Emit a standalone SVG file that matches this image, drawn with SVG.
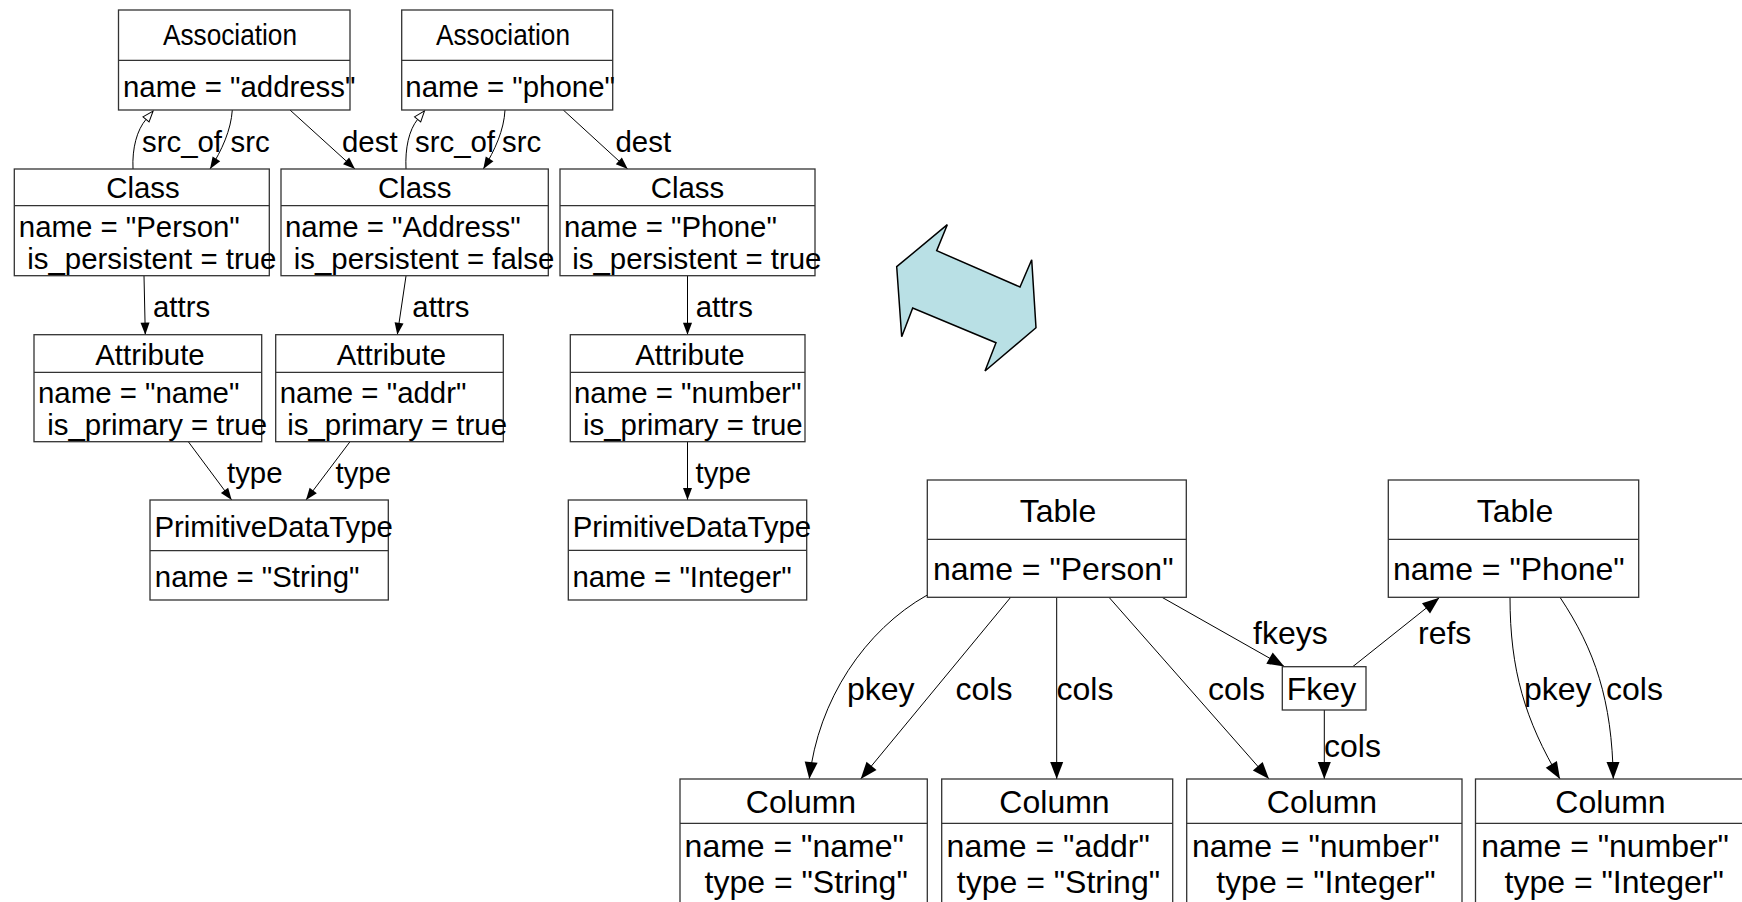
<svg xmlns="http://www.w3.org/2000/svg" width="1742" height="902" viewBox="0 0 1742 902">
  <style>
    .box { fill: #ffffff; stroke: #333333; stroke-width: 1.3; }
    .div { stroke: #333333; stroke-width: 1.3; }
    .t { font-family: "Liberation Sans", Arial, sans-serif; font-size: 29.4px; fill: #000000; }
    .tl { font-family: "Liberation Sans", Arial, sans-serif; font-size: 32px; fill: #000000; }
    .c { text-anchor: middle; }
    .edge { fill: none; stroke: #000000; stroke-width: 1; }
    .up { marker-end: url(#ah); }
    .open { marker-end: url(#ahOpen); }
    .low { marker-end: url(#ahL); }
  </style>
  <defs>
    <marker id="ah" markerUnits="userSpaceOnUse" markerWidth="13" markerHeight="10" refX="12" refY="4.5" orient="auto" overflow="visible">
      <path d="M0,0 L12,4.5 L0,9 z" fill="#000000"/>
    </marker>
    <marker id="ahOpen" markerUnits="userSpaceOnUse" markerWidth="13" markerHeight="10" refX="0" refY="4" orient="auto" overflow="visible">
      <path d="M0,0 L11,4 L0,8 z" fill="#ffffff" stroke="#000000" stroke-width="1"/>
    </marker>
    <marker id="ahL" markerUnits="userSpaceOnUse" markerWidth="18" markerHeight="14" refX="17" refY="6.5" orient="auto" overflow="visible">
      <path d="M0,0 L17,6.5 L0,13 z" fill="#000000"/>
    </marker>
  </defs>

  <rect width="1742" height="902" fill="#ffffff"/>

  <!-- connectors -->
  <g id="connectors">
    <!-- object model -->
    <path class="edge open" d="M133,169 C132,148 137,130 146,119.4"/>
    <path class="edge up" d="M232.3,110 C231,130 222,150 210,169"/>
    <path class="edge up" d="M290,110 L355,169"/>
    <path class="edge open" d="M406,169 C405,148 409,130 417.6,119.4"/>
    <path class="edge up" d="M505,110 C504,130 495,150 483.3,169"/>
    <path class="edge up" d="M563.3,110 L627.7,169"/>
    <path class="edge up" d="M144,276 L145.3,334.7"/>
    <path class="edge up" d="M406,276 L397.3,334.7"/>
    <path class="edge up" d="M687.5,276 L687.5,334.7"/>
    <path class="edge up" d="M188.3,441.7 L231.7,500"/>
    <path class="edge up" d="M350,441.7 L306,500"/>
    <path class="edge up" d="M687.5,441.7 L687.5,500"/>

    <!-- relational model -->
    <path class="edge low" d="M927.3,595 C865,630 818,700 809.3,779"/>
    <path class="edge low" d="M1010.7,597.3 L860.7,779"/>
    <path class="edge low" d="M1056.7,597.3 L1056.7,779"/>
    <path class="edge low" d="M1109,597.3 L1269,779"/>
    <path class="edge low" d="M1162,597.3 L1284.3,666.5"/>
    <path class="edge low" d="M1352.7,666.7 L1439.3,597.7"/>
    <path class="edge low" d="M1324.3,710 L1324.3,779"/>
    <path class="edge low" d="M1510,597.3 C1510,670 1525,720 1560,779"/>
    <path class="edge low" d="M1560,597.3 C1595,650 1612,700 1613.3,779"/>

    <!-- edge labels -->
    <text class="t" x="142" y="152">src_of</text>
    <text class="t" x="230.5" y="152">src</text>
    <text class="t" x="342" y="152">dest</text>
    <text class="t" x="415" y="152">src_of</text>
    <text class="t" x="502" y="152">src</text>
    <text class="t" x="615.5" y="152">dest</text>
    <text class="t" x="153" y="316.7">attrs</text>
    <text class="t" x="412.3" y="316.7">attrs</text>
    <text class="t" x="695.7" y="316.7">attrs</text>
    <text class="t" x="227" y="483.3">type</text>
    <text class="t" x="335.5" y="483.3">type</text>
    <text class="t" x="695.5" y="483.3">type</text>

    <text class="tl" x="847" y="700">pkey</text>
    <text class="tl" x="955.5" y="700">cols</text>
    <text class="tl" x="1056.5" y="700">cols</text>
    <text class="tl" x="1208" y="700">cols</text>
    <text class="tl" x="1253" y="644">fkeys</text>
    <text class="tl" x="1418" y="644">refs</text>
    <text class="tl" x="1324" y="756.7">cols</text>
    <text class="tl" x="1524" y="700">pkey</text>
    <text class="tl" x="1606" y="700">cols</text>
  </g>

  <!-- object model nodes -->
  <g id="assoc-address">
    <rect class="box" x="118.5" y="10" width="231.5" height="100"/>
    <line class="div" x1="118.5" y1="60.3" x2="350" y2="60.3"/>
    <text class="t c" x="230" y="45" textLength="134" lengthAdjust="spacingAndGlyphs">Association</text>
    <text class="t" x="123" y="96.7">name = "address"</text>
  </g>
  <g id="assoc-phone">
    <rect class="box" x="401.7" y="10" width="211" height="100"/>
    <line class="div" x1="401.7" y1="60.3" x2="612.7" y2="60.3"/>
    <text class="t c" x="503" y="45" textLength="134" lengthAdjust="spacingAndGlyphs">Association</text>
    <text class="t" x="405.3" y="96.7">name = "phone"</text>
  </g>
  <g id="class-person">
    <rect class="box" x="14.3" y="169" width="255" height="106.7"/>
    <line class="div" x1="14.3" y1="205.7" x2="269.3" y2="205.7"/>
    <text class="t c" x="143" y="198.3">Class</text>
    <text class="t" x="18.8" y="237">name = "Person"</text>
    <text class="t" x="27.3" y="269">is_persistent = true</text>
  </g>
  <g id="class-address">
    <rect class="box" x="281" y="169" width="267.3" height="106.7"/>
    <line class="div" x1="281" y1="205.7" x2="548.3" y2="205.7"/>
    <text class="t c" x="414.7" y="198.3">Class</text>
    <text class="t" x="285" y="237">name = "Address"</text>
    <text class="t" x="293.8" y="269">is_persistent = false</text>
  </g>
  <g id="class-phone">
    <rect class="box" x="560" y="169" width="255" height="106.7"/>
    <line class="div" x1="560" y1="205.7" x2="815" y2="205.7"/>
    <text class="t c" x="687.5" y="198.3">Class</text>
    <text class="t" x="564" y="237">name = "Phone"</text>
    <text class="t" x="572.3" y="269">is_persistent = true</text>
  </g>
  <g id="attr-name">
    <rect class="box" x="34" y="334.7" width="227.7" height="107"/>
    <line class="div" x1="34" y1="372.3" x2="261.7" y2="372.3"/>
    <text class="t c" x="150" y="365">Attribute</text>
    <text class="t" x="38" y="402.7">name = "name"</text>
    <text class="t" x="47.3" y="435">is_primary = true</text>
  </g>
  <g id="attr-addr">
    <rect class="box" x="275.7" y="334.7" width="227.6" height="107"/>
    <line class="div" x1="275.7" y1="372.3" x2="503.3" y2="372.3"/>
    <text class="t c" x="391.5" y="365">Attribute</text>
    <text class="t" x="279.7" y="402.7">name = "addr"</text>
    <text class="t" x="287.3" y="435">is_primary = true</text>
  </g>
  <g id="attr-number">
    <rect class="box" x="570.3" y="334.7" width="234.7" height="107"/>
    <line class="div" x1="570.3" y1="372.3" x2="805" y2="372.3"/>
    <text class="t c" x="690" y="365">Attribute</text>
    <text class="t" x="574" y="402.7">name = "number"</text>
    <text class="t" x="583" y="435">is_primary = true</text>
  </g>
  <g id="type-string">
    <rect class="box" x="150" y="500" width="238.3" height="100"/>
    <line class="div" x1="150" y1="550.7" x2="388.3" y2="550.7"/>
    <text class="t" x="154.4" y="536.7">PrimitiveDataType</text>
    <text class="t" x="154.8" y="586.7">name = "String"</text>
  </g>
  <g id="type-integer">
    <rect class="box" x="568.3" y="500" width="238.4" height="100"/>
    <line class="div" x1="568.3" y1="550.3" x2="806.7" y2="550.3"/>
    <text class="t" x="572.7" y="536.7">PrimitiveDataType</text>
    <text class="t" x="572.4" y="586.7">name = "Integer"</text>
  </g>

  <!-- transformation arrow -->
  <g id="transform-arrow">
    <polygon points="896.7,266.7 947.3,224.7 936.7,250.7 1020,287 1031.7,259.7 1036,327.7 985,371 996,342.7 912.7,308 901.7,336.7" fill="#b9e0e5" stroke="#000000" stroke-width="1.5" stroke-linejoin="miter"/>
  </g>

  <!-- relational model nodes -->
  <g id="table-person">
    <rect class="box" x="927.3" y="480" width="259" height="117.3"/>
    <line class="div" x1="927.3" y1="539.3" x2="1186.3" y2="539.3"/>
    <text class="tl c" x="1058" y="521.7">Table</text>
    <text class="tl" x="932.9" y="580">name = "Person"</text>
  </g>
  <g id="table-phone">
    <rect class="box" x="1388.3" y="480" width="250.4" height="117.3"/>
    <line class="div" x1="1388.3" y1="539.3" x2="1638.7" y2="539.3"/>
    <text class="tl c" x="1515" y="521.7">Table</text>
    <text class="tl" x="1392.9" y="580">name = "Phone"</text>
  </g>
  <g id="fkey">
    <rect class="box" x="1282.3" y="666.7" width="83.7" height="43.3"/>
    <text class="tl" x="1286.8" y="700">Fkey</text>
  </g>
  <g id="column-name">
    <rect class="box" x="680" y="779" width="247.3" height="130"/>
    <line class="div" x1="680" y1="823.3" x2="927.3" y2="823.3"/>
    <text class="tl c" x="801" y="813.3">Column</text>
    <text class="tl" x="684.6" y="856.7">name = "name"</text>
    <text class="tl" x="704.5" y="893">type = "String"</text>
  </g>
  <g id="column-addr">
    <rect class="box" x="941.7" y="779" width="231" height="130"/>
    <line class="div" x1="941.7" y1="823.3" x2="1172.7" y2="823.3"/>
    <text class="tl c" x="1054.5" y="813.3">Column</text>
    <text class="tl" x="946.6" y="856.7">name = "addr"</text>
    <text class="tl" x="956.8" y="893">type = "String"</text>
  </g>
  <g id="column-number">
    <rect class="box" x="1186.7" y="779" width="275.3" height="130"/>
    <line class="div" x1="1186.7" y1="823.3" x2="1462" y2="823.3"/>
    <text class="tl c" x="1322" y="813.3">Column</text>
    <text class="tl" x="1191.9" y="856.7">name = "number"</text>
    <text class="tl" x="1216.2" y="893">type = "Integer"</text>
  </g>
  <g id="column-phone-number">
    <rect class="box" x="1475.5" y="779" width="275" height="130"/>
    <line class="div" x1="1475.5" y1="823.3" x2="1750.5" y2="823.3"/>
    <text class="tl c" x="1610.5" y="813.3">Column</text>
    <text class="tl" x="1481.2" y="856.7">name = "number"</text>
    <text class="tl" x="1504.5" y="893">type = "Integer"</text>
  </g>
</svg>
